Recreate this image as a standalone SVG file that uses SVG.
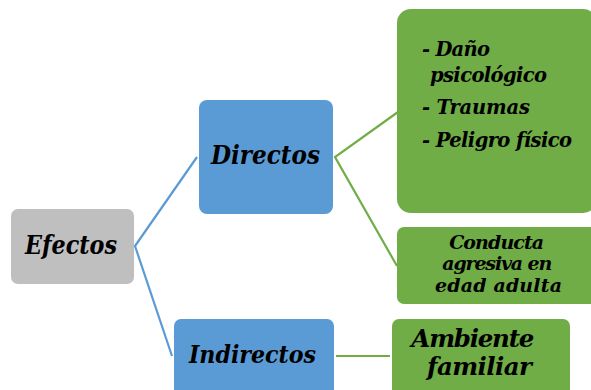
<svg xmlns="http://www.w3.org/2000/svg" width="591" height="390" viewBox="0 0 591 390">
<style>
.t{font-family:"DejaVu Serif","Liberation Serif",serif;font-weight:bold;font-style:italic;fill:#000}
.c{text-anchor:middle}
.lb{stroke:#5b9bd5;stroke-width:2.2;fill:none}
.lg{stroke:#70ad47;stroke-width:2.2;fill:none}
</style>
<rect width="591" height="390" fill="#fff"/>
<g id="connectors">
<polyline class="lb" points="197,157 135,246 172,356"/>
<polyline class="lg" points="398,112 335,157 397,266"/>
<line class="lg" x1="336" y1="356" x2="390" y2="356"/>
</g>
<g id="efectos">
<rect x="11" y="209" width="123" height="75" rx="7" fill="#bfbfbf"/>
<text class="t c" x="71" y="254" font-size="25.5" textLength="92" lengthAdjust="spacingAndGlyphs">Efectos</text>
</g>
<g id="directos">
<rect x="199" y="100" width="134" height="114" rx="8" fill="#5b9bd5"/>
<text class="t c" x="265.5" y="164" font-size="26" textLength="109" lengthAdjust="spacingAndGlyphs">Directos</text>
</g>
<g id="indirectos">
<rect x="174" y="319" width="160" height="80" rx="7" fill="#5b9bd5"/>
<text class="t c" x="252.5" y="363" font-size="25" textLength="127" lengthAdjust="spacingAndGlyphs">Indirectos</text>
</g>
<g id="efectos-directos">
<rect x="397" y="9" width="200" height="204" rx="14" fill="#70ad47"/>
<text class="t" font-size="19.5" lengthAdjust="spacingAndGlyphs">
<tspan x="422" y="56" textLength="68">- Daño</tspan>
<tspan x="430" y="82" textLength="117">psicológico</tspan>
<tspan x="422" y="114" textLength="108">- Traumas</tspan>
<tspan x="422" y="147" textLength="150">- Peligro físico</tspan>
</text>
</g>
<g id="conducta">
<rect x="397" y="227" width="200" height="77" rx="7" fill="#70ad47"/>
<text class="t c" font-size="19" lengthAdjust="spacingAndGlyphs">
<tspan x="499.5" y="249" textLength="95">Conducta</tspan>
<tspan x="500" y="270" textLength="110">agresiva en</tspan>
<tspan x="498.5" y="292" textLength="127">edad adulta</tspan>
</text>
</g>
<g id="ambiente">
<rect x="392" y="319" width="178" height="80" rx="7" fill="#70ad47"/>
<text class="t c" font-size="24.5" lengthAdjust="spacingAndGlyphs">
<tspan x="476.5" y="347" textLength="123">Ambiente</tspan>
<tspan x="479.5" y="375" textLength="105">familiar</tspan>
</text>
</g>
</svg>
